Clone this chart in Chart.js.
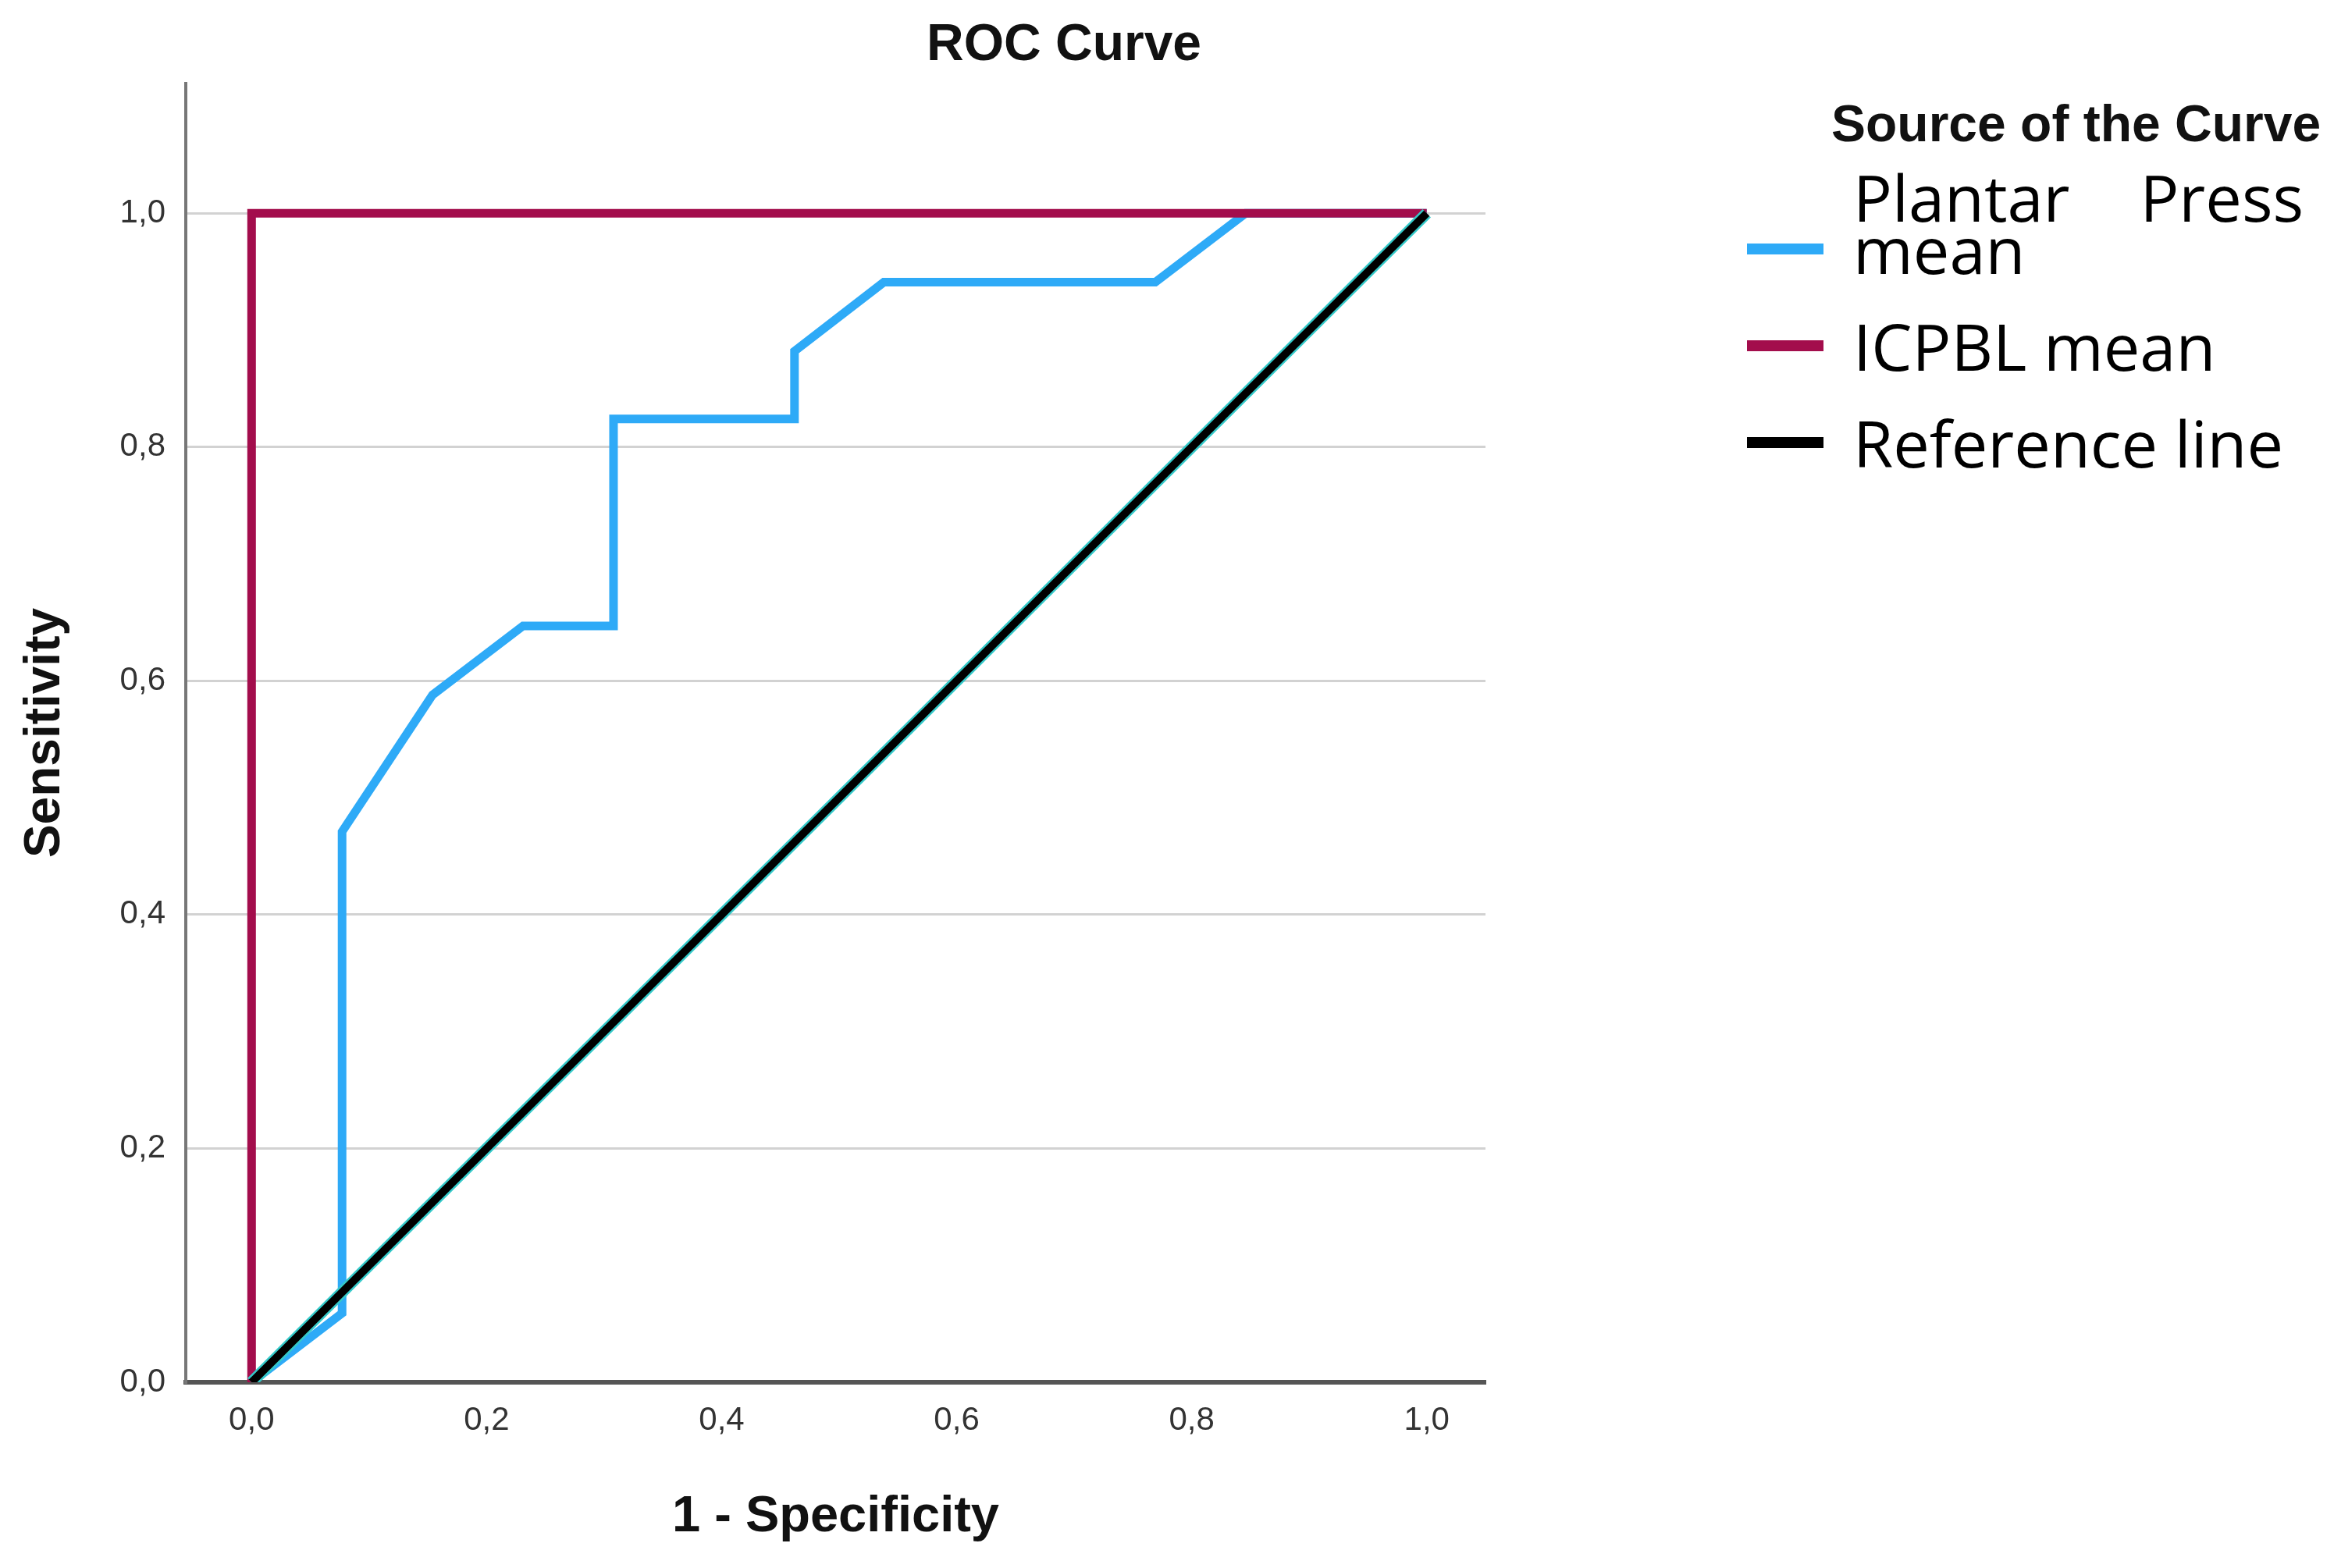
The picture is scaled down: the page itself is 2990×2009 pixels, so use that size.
<!DOCTYPE html>
<html>
<head>
<meta charset="utf-8">
<title>ROC Curve</title>
<script src="https://cdn.jsdelivr.net/npm/chart.js@4.4.1/dist/chart.umd.min.js"></script>
<style>
	body { margin: 0; background: #fff; }
	#wrap { position: relative; width: 2990px; height: 2009px; }
	#roc { position: absolute; left: 0; top: 0; }
	#title {
		position: absolute; left: 1187px; top: 21px;
		font: bold 66px "Liberation Sans", Arial, sans-serif; line-height: 66px; color: #111;
		white-space: nowrap;
	}
	#legend-title {
		position: absolute; left: 2346px; top: 125px;
		font: bold 66px "Liberation Sans", Arial, sans-serif; line-height: 66px; color: #111;
		white-space: nowrap;
	}
	#legend { position: absolute; left: 2238px; top: 218px; }
	.item { position: relative; padding-left: 136px; margin-bottom: 57px; }
	.item .mark { position: absolute; left: 0; bottom: 26px; width: 98px; height: 14px; }
	.item .text {
		width: 577px; text-align: justify;
		font: 83px "Open Sans", "Noto Sans", sans-serif; line-height: 67px; color: #000;
	}
</style>
</head>
<body>
<div id="wrap">
	<canvas id="roc" width="2990" height="2009"></canvas>
	<div id="title">ROC Curve</div>
	<div id="legend-title">Source of the Curve</div>
	<div id="legend"></div>
</div>
<script>
// 1 - specificity / sensitivity
const plantarX = [0, 0.077, 0.077, 0.154, 0.231, 0.308, 0.308, 0.462, 0.462, 0.538, 0.769, 0.846, 1];
const plantarY = [0, 0.059, 0.471, 0.588, 0.647, 0.647, 0.824, 0.824, 0.882, 0.941, 0.941, 1, 1];

const icpblX = [0, 0, 1];
const icpblY = [0, 1, 1];

const refX = [0, 1];
const refY = [0, 1];

const xTicks = [0, 0.2, 0.4, 0.6, 0.8, 1.0];
const yTicks = [0, 0.2, 0.4, 0.6, 0.8, 1.0];

const zip = (xs, ys) => xs.map((x, i) => ({ x: x, y: ys[i] }));
const fmt = (v) => v.toFixed(1).replace(".", ",");

const line = {
	showLine: true,
	fill: false,
	tension: 0,
	pointRadius: 0,
	pointHoverRadius: 0,
	borderWidth: 11,
};

const chart = new Chart(document.getElementById("roc"), {
	type: "scatter",
	data: {
		datasets: [
			{ ...line, label: "Plantar Press mean", data: zip(plantarX, plantarY), borderColor: "#2eaaf7", order: 4 },
			{ ...line, label: "ICPBL mean", data: zip(icpblX, icpblY), borderColor: "#a30d4c", order: 3 },
			// thin cyan fringe under the reference line, as in the picture
			{ ...line, label: "", data: zip(refX, refY), borderColor: "#35c9c9", borderWidth: 15, order: 2, helper: true },
			{ ...line, label: "Reference line", data: zip(refX, refY), borderColor: "#000000", borderWidth: 10, order: 1 },
		],
	},
	options: {
		responsive: false,
		devicePixelRatio: 1,
		animation: false,
		layout: { padding: { top: 107, right: 1087, left: 0, bottom: 0 } },
		plugins: {
			legend: { display: false },
			title: { display: false },
			tooltip: { enabled: false },
		},
		scales: {
			x: {
				type: "linear",
				min: -0.056,
				max: 1.05,
				afterBuildTicks: (s) => { s.ticks = xTicks.map((v) => ({ value: v })); },
				afterFit: (s) => { s.height = 238; },
				ticks: {
					callback: (v) => fmt(v),
					font: { family: "Liberation Sans", size: 42 },
					color: "#333",
					padding: 24,
				},
				grid: { display: false, drawTicks: false },
				border: { display: true, color: "#555", width: 6 },
				title: {
					display: true,
					text: "1 - Specificity",
					font: { family: "Liberation Sans", size: 65, weight: "bold" },
					color: "#111",
					padding: { top: 0, bottom: 26 },
				},
			},
			y: {
				type: "linear",
				min: 0,
				max: 1.111,
				afterBuildTicks: (s) => { s.ticks = yTicks.map((v) => ({ value: v })); },
				afterFit: (s) => { s.width = 238; },
				ticks: {
					callback: (v) => fmt(v),
					font: { family: "Liberation Sans", size: 42 },
					color: "#333",
					padding: 26,
				},
				grid: { color: "#d2d2d2", lineWidth: 3, drawTicks: false },
				border: { display: true, color: "#777", width: 4 },
				title: {
					display: true,
					text: "Sensitivity",
					font: { family: "Liberation Sans", size: 64, weight: "bold" },
					color: "#111",
					padding: { top: 20, bottom: 0 },
				},
			},
		},
	},
});

// legend built from the datasets
const legend = document.getElementById("legend");
chart.data.datasets
	.filter((d) => !d.helper)
	.sort((a, b) => b.order - a.order)
	.forEach((d) => {
		const item = document.createElement("div");
		item.className = "item";
		const mark = document.createElement("div");
		mark.className = "mark";
		mark.style.background = d.borderColor;
		const text = document.createElement("div");
		text.className = "text";
		text.textContent = d.label;
		item.appendChild(mark);
		item.appendChild(text);
		legend.appendChild(item);
	});
</script>
</body>
</html>
